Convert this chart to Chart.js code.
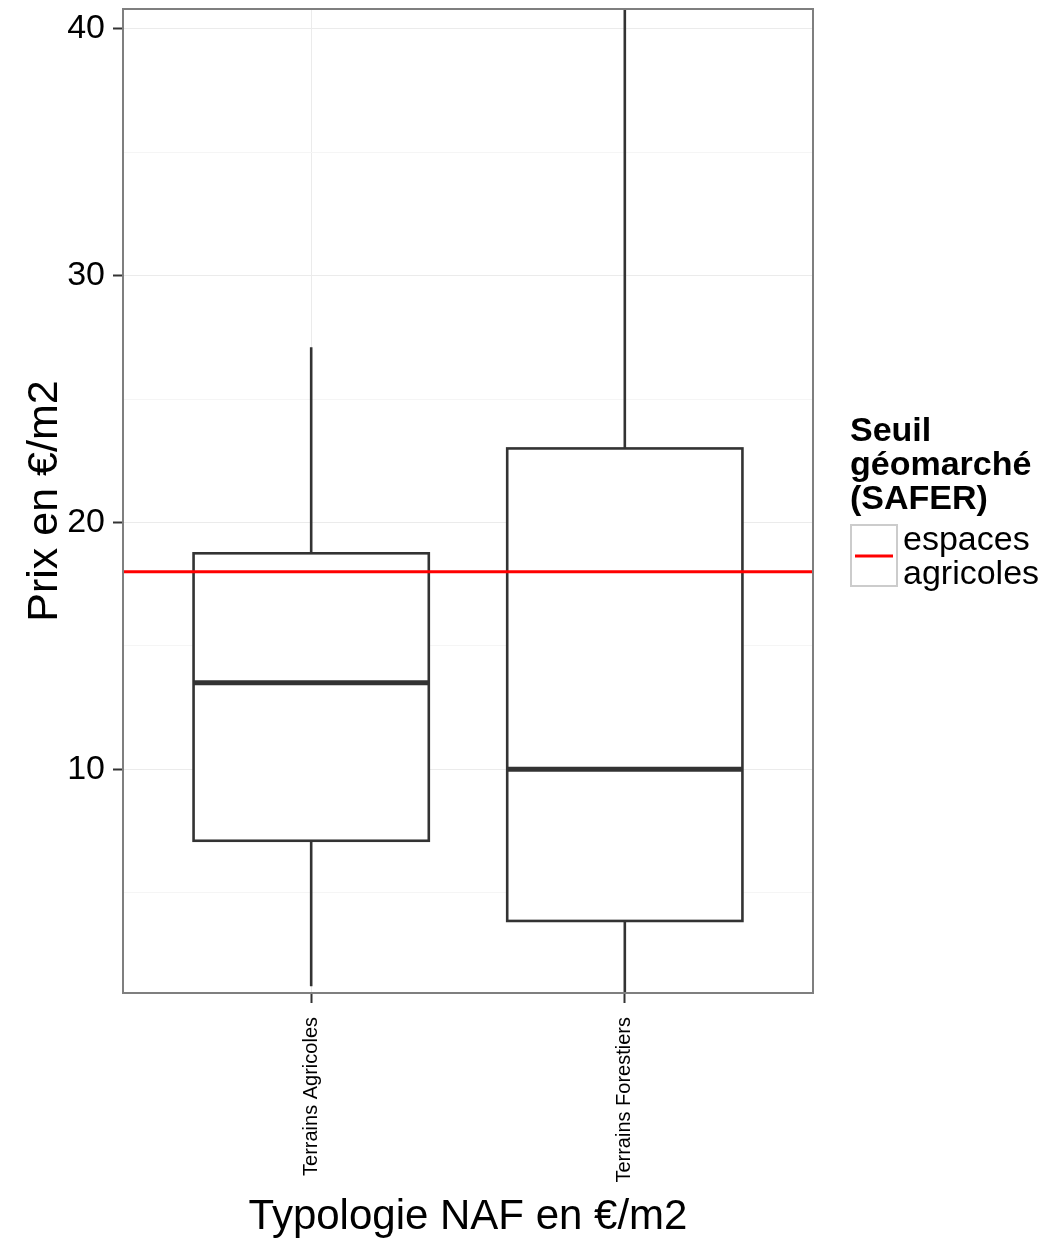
<!DOCTYPE html>
<html>
<head>
<meta charset="utf-8">
<script src="https://cdn.jsdelivr.net/npm/chart.js@4"></script>
<style>
  body { margin: 0; background: #fff; }
  #wrap { width: 1064px; height: 1238px; }
</style>
</head>
<body>
<div id="wrap"><canvas id="chart"></canvas></div>
<script>
const categories = ['Terrains Agricoles', 'Terrains Forestiers'];
const whiskerLow = [1.2, 0.5];
const q1 = [7.1, 3.85];
const median = [13.5, 10.0];
const q3 = [18.75, 23.0];
const whiskerHigh = [27.1, 44];
const seuil = 18;
const yTicks = [5, 10, 15, 20, 25, 30, 35, 40];

const FONT = "'Liberation Sans', Arial, sans-serif";
const boxWidth = 0.75;

// boxes, whiskers and medians, drawn through the scales
const boxPlot = {
  id: 'boxPlot',
  beforeDatasetsDraw(chart) {
    const { ctx, chartArea, scales: { x, y } } = chart;
    ctx.save();
    ctx.beginPath();
    ctx.rect(chartArea.left, chartArea.top, chartArea.width, chartArea.height);
    ctx.clip();
    ctx.strokeStyle = '#333333';
    categories.forEach((c, i) => {
      const cx = x.getPixelForValue(i + 1);
      const left = x.getPixelForValue(i + 1 - boxWidth / 2);
      const right = x.getPixelForValue(i + 1 + boxWidth / 2);
      const yq1 = y.getPixelForValue(q1[i]);
      const yq3 = y.getPixelForValue(q3[i]);
      ctx.lineWidth = 2.6;
      ctx.beginPath();
      ctx.moveTo(cx, y.getPixelForValue(whiskerHigh[i]));
      ctx.lineTo(cx, yq3);
      ctx.moveTo(cx, yq1);
      ctx.lineTo(cx, y.getPixelForValue(whiskerLow[i]));
      ctx.stroke();
      ctx.fillStyle = '#fff';
      ctx.fillRect(left, yq3, right - left, yq1 - yq3);
      ctx.strokeRect(left, yq3, right - left, yq1 - yq3);
      ctx.lineWidth = 5;
      ctx.beginPath();
      const ym = y.getPixelForValue(median[i]);
      ctx.moveTo(left, ym);
      ctx.lineTo(right, ym);
      ctx.stroke();
    });
    ctx.restore();
  },
  afterDraw(chart) {
    const { ctx, chartArea } = chart;
    ctx.save();
    // panel border
    ctx.strokeStyle = '#7f7f7f';
    ctx.lineWidth = 2;
    ctx.strokeRect(chartArea.left, chartArea.top, chartArea.width, chartArea.height);
    // legend
    ctx.fillStyle = '#000';
    ctx.textBaseline = 'alphabetic';
    ctx.textAlign = 'left';
    ctx.font = 'bold 34px ' + FONT;
    ['Seuil', 'géomarché', '(SAFER)'].forEach((t, i) => ctx.fillText(t, 850, 441 + i * 34));
    ctx.strokeStyle = '#cccccc';
    ctx.lineWidth = 2;
    ctx.strokeRect(851, 525, 46, 61);
    ctx.strokeStyle = chart.data.datasets[0].borderColor;
    ctx.lineWidth = 3;
    ctx.beginPath();
    ctx.moveTo(855, 556);
    ctx.lineTo(893, 556);
    ctx.stroke();
    ctx.font = '34px ' + FONT;
    ctx.fillText('espaces', 903, 550);
    ctx.fillText('agricoles', 903, 584);
    ctx.restore();
  }
};

new Chart(document.getElementById('chart'), {
  type: 'line',
  data: {
    datasets: [{
      label: 'espaces agricoles',
      data: [{ x: 0.4, y: seuil }, { x: 2.6, y: seuil }],
      borderColor: '#ff0000',
      borderWidth: 3,
      pointRadius: 0
    }]
  },
  options: {
    responsive: true,
    maintainAspectRatio: false,
    animation: false,
    layout: { padding: { top: 9, right: 251, left: 0, bottom: 0 } },
    plugins: { legend: { display: false }, tooltip: { enabled: false } },
    scales: {
      x: {
        type: 'linear',
        min: 0.4,
        max: 2.6,
        afterBuildTicks: s => { s.ticks = categories.map((c, i) => ({ value: i + 1 })); },
        afterFit: s => { s.height = 245; s.paddingLeft = 0; s.paddingRight = 0; },
        ticks: {
          callback: v => categories[v - 1],
          autoSkip: false,
          minRotation: 90,
          maxRotation: 90,
          padding: 14,
          color: '#000',
          font: { family: FONT, size: 20 }
        },
        grid: { color: '#ebebeb', lineWidth: 1, tickColor: '#333', tickLength: 10, tickWidth: 2 },
        border: { display: false },
        title: {
          display: true,
          text: 'Typologie NAF en €/m2',
          color: '#000',
          font: { family: FONT, size: 42, lineHeight: 1 },
          padding: { top: 0, bottom: 0 }
        }
      },
      y: {
        min: 0.93,
        max: 40.81,
        afterBuildTicks: s => { s.ticks = yTicks.map(v => ({ value: v })); },
        afterFit: s => { s.width = 123; s.paddingTop = 0; s.paddingBottom = 0; },
        ticks: {
          callback: v => (v % 10 === 0 ? v : ''),
          padding: 8,
          color: '#000',
          font: { family: FONT, size: 34 }
        },
        grid: {
          color: c => (c.tick && c.tick.value % 10 === 0 ? '#ebebeb' : '#f5f5f5'),
          tickColor: c => (c.tick && c.tick.value % 10 === 0 ? '#333' : 'rgba(0,0,0,0)'),
          tickLength: 10,
          tickWidth: 2
        },
        border: { display: false },
        title: {
          display: true,
          text: 'Prix en €/m2',
          color: '#000',
          font: { family: FONT, size: 43 },
          padding: { top: 19, bottom: 0 }
        }
      }
    }
  },
  plugins: [boxPlot]
});
</script>
</body>
</html>
